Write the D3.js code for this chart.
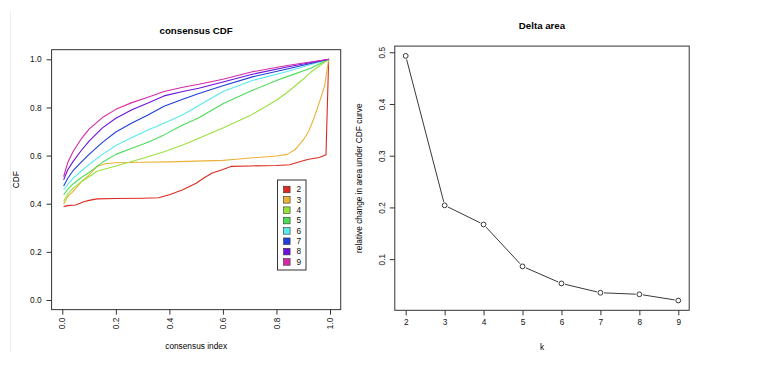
<!DOCTYPE html>
<html>
<head>
<meta charset="utf-8">
<script src="https://cdn.jsdelivr.net/npm/d3@7"></script>
<style>
  body { margin: 0; background: #fff; }
  svg { display: block; font-family: "Liberation Sans", Arial, Helvetica, sans-serif; }
</style>
</head>
<body>
<svg id="chart" width="758" height="377"></svg>
<script>
// consensus CDF curves, [consensus index, CDF]
const cdf2 = [[0.005,0.388],[0.02,0.392],[0.05,0.395],[0.08,0.408],[0.1,0.414],[0.13,0.42],[0.2,0.422],[0.3,0.423],[0.36,0.425],[0.4,0.437],[0.45,0.458],[0.5,0.485],[0.53,0.508],[0.56,0.528],[0.6,0.542],[0.63,0.555],[0.7,0.557],[0.8,0.559],[0.85,0.562],[0.88,0.572],[0.92,0.585],[0.96,0.592],[0.985,0.603],[0.995,1]];
const cdf3 = [[0.005,0.398],[0.02,0.43],[0.04,0.45],[0.07,0.49],[0.1,0.52],[0.13,0.555],[0.16,0.566],[0.2,0.57],[0.3,0.572],[0.4,0.574],[0.5,0.577],[0.6,0.58],[0.65,0.585],[0.7,0.59],[0.8,0.598],[0.84,0.605],[0.87,0.625],[0.9,0.665],[0.92,0.7],[0.94,0.755],[0.96,0.82],[0.98,0.89],[0.995,1]];
const cdf4 = [[0.005,0.41],[0.02,0.44],[0.04,0.464],[0.07,0.49],[0.1,0.512],[0.13,0.535],[0.2,0.557],[0.25,0.572],[0.32,0.595],[0.38,0.616],[0.45,0.644],[0.51,0.672],[0.6,0.715],[0.7,0.765],[0.8,0.83],[0.84,0.862],[0.9,0.918],[0.93,0.948],[0.995,1]];
const cdf5 = [[0.005,0.436],[0.02,0.46],[0.04,0.482],[0.07,0.508],[0.1,0.53],[0.15,0.572],[0.2,0.605],[0.26,0.63],[0.32,0.655],[0.38,0.686],[0.45,0.727],[0.51,0.757],[0.6,0.815],[0.7,0.866],[0.8,0.912],[0.84,0.928],[0.93,0.964],[0.995,1]];
const cdf6 = [[0.005,0.457],[0.02,0.48],[0.04,0.505],[0.07,0.535],[0.1,0.563],[0.15,0.605],[0.2,0.642],[0.26,0.675],[0.32,0.706],[0.38,0.734],[0.45,0.77],[0.51,0.808],[0.6,0.866],[0.71,0.912],[0.84,0.949],[0.995,1]];
const cdf7 = [[0.005,0.474],[0.02,0.505],[0.04,0.537],[0.07,0.572],[0.1,0.605],[0.15,0.655],[0.2,0.698],[0.26,0.735],[0.32,0.769],[0.38,0.805],[0.45,0.834],[0.51,0.858],[0.6,0.89],[0.71,0.927],[0.84,0.96],[0.995,1]];
const cdf8 = [[0.005,0.499],[0.02,0.54],[0.04,0.575],[0.07,0.62],[0.1,0.66],[0.15,0.715],[0.2,0.755],[0.26,0.79],[0.32,0.818],[0.38,0.848],[0.45,0.866],[0.51,0.88],[0.6,0.906],[0.71,0.938],[0.84,0.968],[0.995,1]];
const cdf9 = [[0.005,0.512],[0.02,0.57],[0.04,0.616],[0.07,0.668],[0.1,0.71],[0.15,0.758],[0.2,0.792],[0.26,0.82],[0.32,0.842],[0.38,0.866],[0.45,0.884],[0.51,0.896],[0.6,0.917],[0.71,0.948],[0.84,0.974],[0.995,1]];

const kLabels = ["2", "3", "4", "5", "6", "7", "8", "9"];
const kColors = ["#dc2a22", "#eab238", "#98e23c", "#4cdc58", "#5aeaea", "#1f3fd8", "#6a12dc", "#d42aa8"];
const cdfTicks = [0, 0.2, 0.4, 0.6, 0.8, 1.0];

// delta area
const deltaK = [2, 3, 4, 5, 6, 7, 8, 9];
const deltaArea = [0.493, 0.204, 0.167, 0.086, 0.053, 0.035, 0.032, 0.020];
const deltaTicks = [0.1, 0.2, 0.3, 0.4, 0.5];

const svg = d3.select("#chart");
const ink = "#333";

// faint frame line on the left
svg.append("line")
    .attr("x1", 10.5).attr("x2", 10.5).attr("y1", 12).attr("y2", 352)
    .attr("stroke", "#ececec");

// ---------- left: consensus CDF ----------
let x = d3.scaleLinear().domain([0, 1]).range([62.3, 330]),
    y = d3.scaleLinear().domain([0, 1]).range([300, 59.3]);

svg.append("rect")
    .attr("x", x(-0.04)).attr("y", y(1.04))
    .attr("width", x(1.04) - x(-0.04)).attr("height", y(-0.04) - y(1.04))
    .attr("fill", "none").attr("stroke", ink);

let gx = svg.append("g")
    .attr("transform", "translate(0," + y(-0.04) + ")")
    .call(d3.axisBottom(x).tickValues(cdfTicks).tickSize(5).tickSizeOuter(0).tickFormat(d3.format(".1f")));
gx.select(".domain").remove();
gx.selectAll("line").attr("stroke", ink);
gx.selectAll("text")
    .attr("transform", "rotate(-90)")
    .attr("x", -8).attr("y", 0).attr("dy", "0.32em")
    .style("text-anchor", "end")
    .attr("font-size", 8.3).attr("fill", "#111");

let gy = svg.append("g")
    .attr("transform", "translate(" + x(-0.04) + ",0)")
    .call(d3.axisLeft(y).tickValues(cdfTicks).tickSize(5).tickSizeOuter(0).tickFormat(d3.format(".1f")));
gy.select(".domain").remove();
gy.selectAll("line").attr("stroke", ink);
gy.selectAll("text").attr("x", -10).attr("font-size", 8.3).attr("fill", "#111");

let line = d3.line().x(d => x(d[0])).y(d => y(d[1]));
[cdf2, cdf3, cdf4, cdf5, cdf6, cdf7, cdf8, cdf9].forEach((c, i) => {
    svg.append("path")
        .attr("d", line(c))
        .attr("fill", "none")
        .attr("stroke", kColors[i])
        .attr("stroke-width", 1.1)
        .attr("stroke-linejoin", "round");
});

svg.append("text")
    .attr("x", (x(-0.04) + x(1.04)) / 2).attr("y", 33.5)
    .attr("text-anchor", "middle").attr("font-size", 9.7).attr("font-weight", "bold")
    .text("consensus CDF");
svg.append("text")
    .attr("x", (x(-0.04) + x(1.04)) / 2).attr("y", 349)
    .attr("text-anchor", "middle").attr("font-size", 8.3)
    .text("consensus index");
svg.append("text")
    .attr("transform", "translate(18.5," + (y(-0.04) + y(1.04)) / 2 + ") rotate(-90)")
    .attr("text-anchor", "middle").attr("font-size", 8.3)
    .text("CDF");

// legend
let legend = svg.append("g").attr("transform", "translate(277.5,180)");
legend.append("rect")
    .attr("width", 28.5).attr("height", 90)
    .attr("fill", "#fff").attr("stroke", ink);
let items = legend.selectAll(".item")
    .data(kLabels)
    .enter().append("g")
    .attr("class", "item")
    .attr("transform", (d, i) => "translate(0," + (9.5 + i * 10.35) + ")");
items.append("rect")
    .attr("x", 6).attr("y", -3.3).attr("width", 6.6).attr("height", 6.6)
    .attr("fill", (d, i) => kColors[i]).attr("stroke", ink).attr("stroke-width", 0.6);
items.append("text")
    .attr("x", 19).attr("dy", "0.33em")
    .attr("font-size", 8.3).attr("fill", "#111")
    .text(d => d);

// ---------- right: Delta area ----------
let span = d3.max(deltaArea) - d3.min(deltaArea),
    x2 = d3.scaleLinear().domain([2, 9]).range([405.7, 678.3]),
    y2 = d3.scaleLinear().domain([d3.min(deltaArea) - 0.04 * span, d3.max(deltaArea) + 0.04 * span]).range([310.3, 46.1]);

svg.append("rect")
    .attr("x", x2(1.72)).attr("y", y2.range()[1])
    .attr("width", x2(9.28) - x2(1.72)).attr("height", y2.range()[0] - y2.range()[1])
    .attr("fill", "none").attr("stroke", ink);

let gx2 = svg.append("g")
    .attr("transform", "translate(0," + y2.range()[0] + ")")
    .call(d3.axisBottom(x2).tickValues(deltaK).tickSize(5).tickSizeOuter(0).tickFormat(d3.format("d")));
gx2.select(".domain").remove();
gx2.selectAll("line").attr("stroke", ink);
gx2.selectAll("text").attr("y", 9).attr("font-size", 8.3).attr("fill", "#111");

let gy2 = svg.append("g")
    .attr("transform", "translate(" + x2(1.72) + ",0)")
    .call(d3.axisLeft(y2).tickValues(deltaTicks).tickSize(5).tickSizeOuter(0).tickFormat(d3.format(".1f")));
gy2.select(".domain").remove();
gy2.selectAll("line").attr("stroke", ink);
gy2.selectAll("text")
    .attr("transform", "rotate(-90)")
    .attr("x", 0).attr("y", -10).attr("dy", 0)
    .style("text-anchor", "middle")
    .attr("font-size", 8.3).attr("fill", "#111");

// type="b": segments stop short of the circles
let r = 2.4, pts = deltaK.map((k, i) => [x2(k), y2(deltaArea[i])]);
for (let i = 0; i < pts.length - 1; i++) {
    let [ax, ay] = pts[i], [bx, by] = pts[i + 1],
        len = Math.hypot(bx - ax, by - ay), g = r + 1.2,
        ux = (bx - ax) / len, uy = (by - ay) / len;
    svg.append("line")
        .attr("x1", ax + ux * g).attr("y1", ay + uy * g)
        .attr("x2", bx - ux * g).attr("y2", by - uy * g)
        .attr("stroke", "#222").attr("stroke-width", 0.9);
}
svg.selectAll(".pt")
    .data(deltaK)
    .enter().append("circle")
    .attr("class", "pt")
    .attr("cx", d => x2(d))
    .attr("cy", (d, i) => y2(deltaArea[i]))
    .attr("r", r)
    .attr("fill", "none").attr("stroke", "#222").attr("stroke-width", 0.9);

svg.append("text")
    .attr("x", (x2(1.72) + x2(9.28)) / 2).attr("y", 29)
    .attr("text-anchor", "middle").attr("font-size", 9.7).attr("font-weight", "bold")
    .text("Delta area");
svg.append("text")
    .attr("x", (x2(1.72) + x2(9.28)) / 2).attr("y", 349.5)
    .attr("text-anchor", "middle").attr("font-size", 8.3)
    .text("k");
svg.append("text")
    .attr("transform", "translate(362," + (y2.range()[0] + y2.range()[1]) / 2 + ") rotate(-90)")
    .attr("text-anchor", "middle").attr("font-size", 8.3)
    .text("relative change in area under CDF curve");
</script>
</body>
</html>
